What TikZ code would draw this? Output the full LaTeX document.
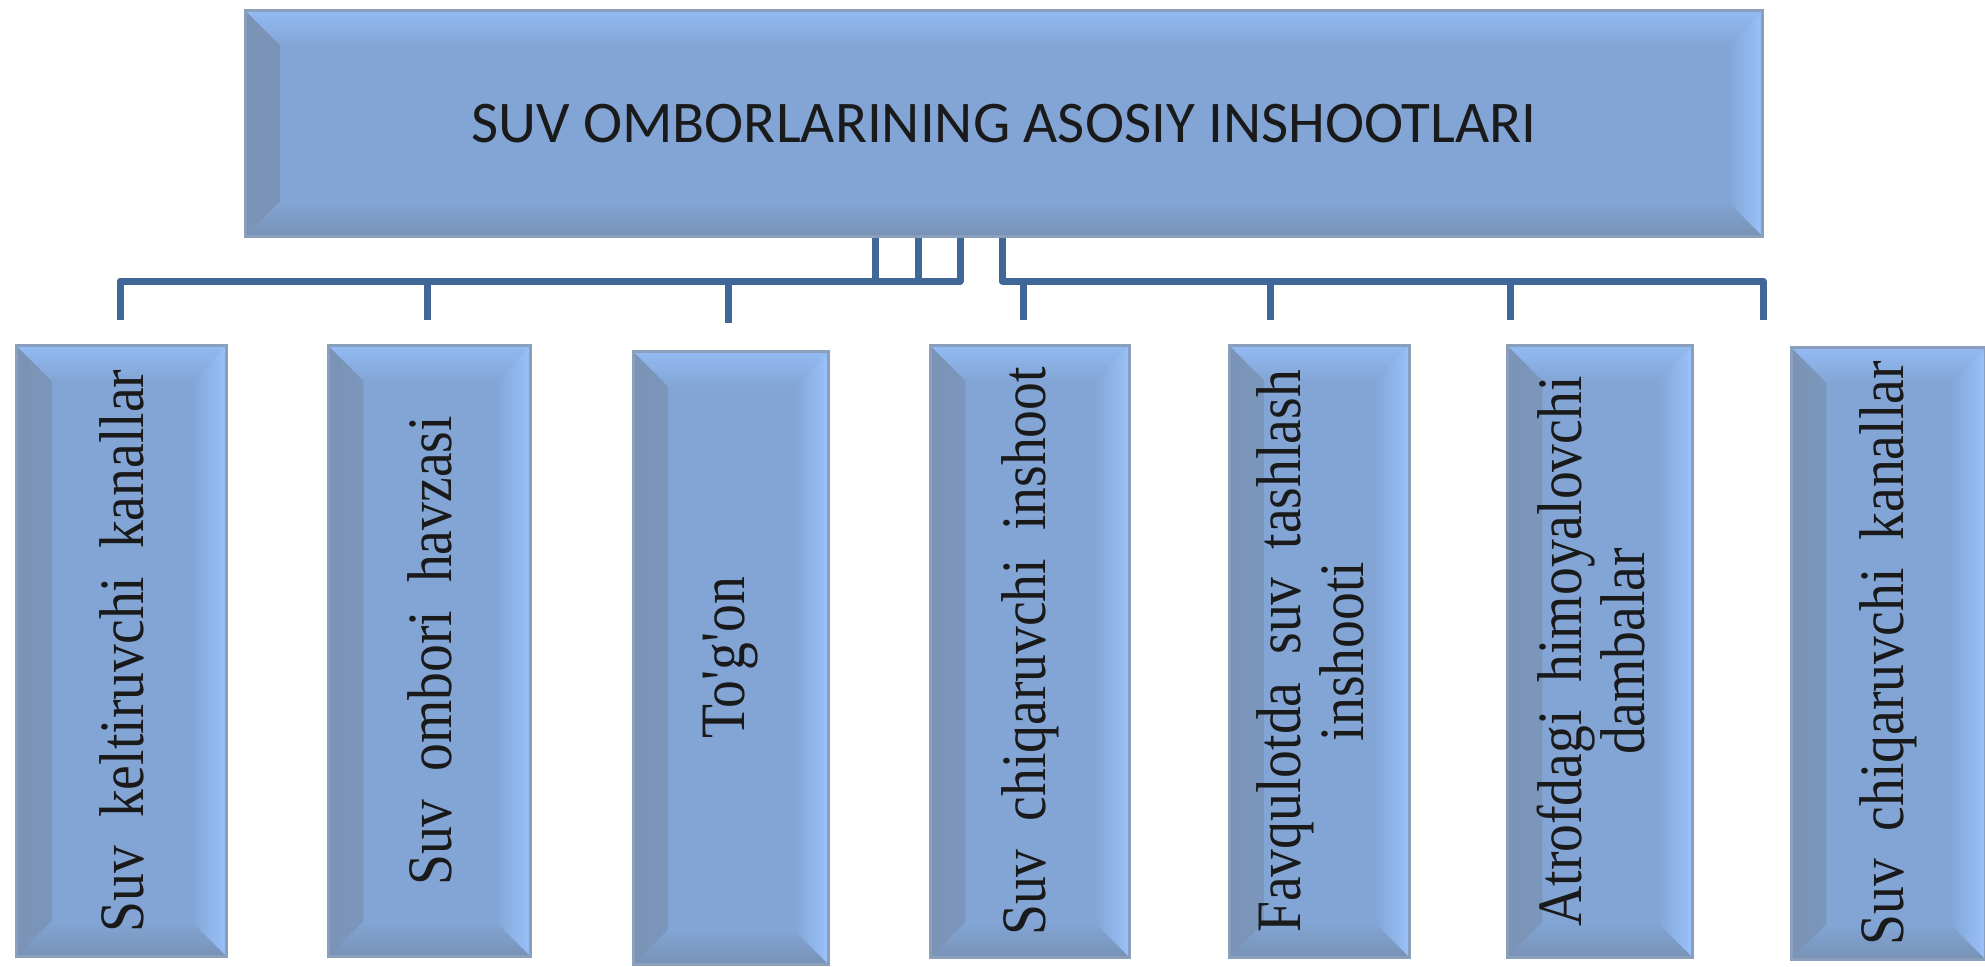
\documentclass[tikz,border=0pt]{standalone}
\usepackage{fontspec}
\usepackage{graphicx}
\setmainfont{Liberation Serif}
\newfontfamily\tikyozuv{Liberation Serif}
\newfontfamily\sarlavha{Carlito}
\definecolor{yuz}{HTML}{82A5D5}
\definecolor{bevtop}{HTML}{93BBF3}
\definecolor{bevleft}{HTML}{7A93B6}
\definecolor{bevright}{HTML}{9AC2FA}
\definecolor{bevbot}{HTML}{7892B5}
\definecolor{chet}{HTML}{8A9FBC}
\definecolor{chiziq}{HTML}{3F6898}
\definecolor{matn}{HTML}{1A1A1A}
% vertical labels of the lower boxes
\newcommand{\vyozuv}[1]{\rotatebox{90}{\scalebox{.88}[1]{\tikyozuv\fontsize{18pt}{18pt}\selectfont\spaceskip=.5em\relax #1}}}

\begin{document}
\begin{tikzpicture}[
	blok/.style={draw=chet, line width=0.8pt, fill=yuz, inner sep=0pt, anchor=north west, text=matn, bevel=0.35},
	bevel/.style={path picture={
		\shade[left color=bevleft, right color=yuz] (path picture bounding box.north west) -- ([shift={(#1,-#1)}]path picture bounding box.north west) -- ([shift={(#1,#1)}]path picture bounding box.south west) -- (path picture bounding box.south west) -- cycle;
		\shade[left color=yuz, right color=bevright] (path picture bounding box.north east) -- ([shift={(-#1,-#1)}]path picture bounding box.north east) -- ([shift={(-#1,#1)}]path picture bounding box.south east) -- (path picture bounding box.south east) -- cycle;
		\shade[top color=bevtop, bottom color=yuz] (path picture bounding box.north west) -- (path picture bounding box.north east) -- ([shift={(-#1,-#1)}]path picture bounding box.north east) -- ([shift={(#1,-#1)}]path picture bounding box.north west) -- cycle;
		\shade[top color=yuz, bottom color=bevbot] (path picture bounding box.south west) -- (path picture bounding box.south east) -- ([shift={(-#1,#1)}]path picture bounding box.south east) -- ([shift={(#1,#1)}]path picture bounding box.south west) -- cycle;
	}},
	ulagich/.style={draw=chiziq, line width=0.07cm, line join=round}
]
	\useasboundingbox (0,0) rectangle (19.85,-9.66);

	\node[blok, minimum width=15.17cm, minimum height=2.26cm] (top) at (2.44,-0.09) {\sarlavha\fontsize{16.8pt}{18pt}\selectfont SUV OMBORLARINING ASOSIY INSHOOTLARI};

	\node[blok, minimum width=2.10cm, minimum height=6.11cm] (b1) at (0.15,-3.44) {\vyozuv{Suv keltiruvchi kanallar}};
	\node[blok, minimum width=2.02cm, minimum height=6.11cm] (b2) at (3.27,-3.44) {\vyozuv{Suv ombori havzasi}};
	\node[blok, minimum width=1.95cm, minimum height=6.13cm] (b3) at (6.32,-3.50) {\vyozuv{To'g'on}};
	\node[blok, minimum width=1.99cm, minimum height=6.12cm] (b4) at (9.29,-3.44) {\vyozuv{Suv chiqaruvchi inshoot}};
	\node[blok, minimum width=1.80cm, minimum height=6.12cm] (b5) at (12.28,-3.44) {\vyozuv{\begin{tabular}{@{}c@{}}Favqulotda suv tashlash\\ inshooti\end{tabular}}};
	\node[blok, minimum width=1.85cm, minimum height=6.12cm] (b6) at (15.06,-3.44) {\vyozuv{\begin{tabular}{@{}c@{}}Atrofdagi himoyalovchi\\ dambalar\end{tabular}}};
	\node[blok, minimum width=1.94cm, minimum height=6.12cm] (b7) at (17.90,-3.46) {\vyozuv{Suv chiqaruvchi kanallar}};

	% bus level and free ends of the drops
	\coordinate (bus) at (0,-2.81);
	\coordinate (d1) at (1.20,-3.20);
	\coordinate (d2) at (4.27,-3.20);
	\coordinate (d3) at (7.28,-3.23);
	\coordinate (d4) at (10.23,-3.20);
	\coordinate (d5) at (12.70,-3.20);
	\coordinate (d6) at (15.10,-3.20);
	\coordinate (d7) at (17.63,-3.20);

	% left group
	\draw[ulagich] (top.south -| 8.75,0) -- (bus -| 8.75,0);
	\draw[ulagich] (top.south -| 9.18,0) -- (bus -| 9.18,0);
	\draw[ulagich] (top.south -| 9.60,0) |- (d1 |- bus) -- (d1);
	\draw[ulagich] (d2 |- bus) -- (d2);
	\draw[ulagich] (d3 |- bus) -- (d3);
	% right group
	\draw[ulagich] (top.south -| 10.02,0) |- (d7 |- bus) -- (d7);
	\draw[ulagich] (d4 |- bus) -- (d4);
	\draw[ulagich] (d5 |- bus) -- (d5);
	\draw[ulagich] (d6 |- bus) -- (d6);
\end{tikzpicture}
\end{document}
